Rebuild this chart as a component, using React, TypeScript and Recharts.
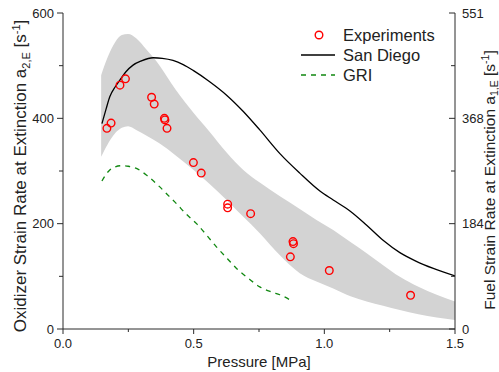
import { ComposedChart, Area, Line, Scatter, XAxis, YAxis } from "recharts";

// experimental extinction points
const expP = [0.168, 0.184, 0.218, 0.239, 0.339, 0.349, 0.388, 0.39, 0.398, 0.499, 0.529, 0.63, 0.63, 0.718, 0.87, 0.88, 0.882, 1.019, 1.33];
const expA = [381, 391, 463, 475, 440, 427, 400, 397, 381, 316, 296, 237, 230, 219, 137, 166, 162, 111, 64];

// San Diego mechanism
const sdP = [0.149, 0.165, 0.179, 0.2, 0.217, 0.24, 0.268, 0.3, 0.345, 0.38, 0.421, 0.46, 0.498, 0.56, 0.626, 0.69, 0.753, 0.83, 0.906, 0.983, 1.034, 1.098, 1.162, 1.226, 1.289, 1.35, 1.417, 1.5];
const sdA = [390, 418, 441, 460, 472, 488, 501, 509, 515, 514, 510, 502, 491, 470, 444, 413, 378, 333, 296, 262, 245, 224, 197, 168, 145, 129, 115, 101];

// GRI mechanism
const griP = [0.149, 0.165, 0.179, 0.2, 0.223, 0.25, 0.281, 0.32, 0.357, 0.4, 0.434, 0.47, 0.511, 0.55, 0.587, 0.63, 0.664, 0.71, 0.753, 0.8, 0.83, 0.88];
const griA = [281, 294, 302, 308, 310, 309, 305, 292, 276, 255, 238, 219, 200, 178, 156, 133, 115, 96, 80, 70, 65, 52];

// uncertainty band
const bandP = [0.146, 0.17, 0.2, 0.225, 0.249, 0.28, 0.32, 0.37, 0.43, 0.5, 0.56, 0.626, 0.69, 0.753, 0.83, 0.906, 0.97, 1.034, 1.1, 1.162, 1.225, 1.289, 1.36, 1.43, 1.5];
const bandHi = [482, 515, 545, 558, 560, 552, 530, 500, 455, 410, 375, 335, 302, 278, 252, 228, 207, 188, 165, 144, 121, 99, 80, 65, 52];
const bandLo = [327, 350, 372, 382, 385, 378, 367, 352, 330, 302, 276, 245, 213, 182, 140, 106, 90, 77, 62, 52, 44, 36, 28, 22, 17];

const xTicks = [0, 0.25, 0.5, 0.75, 1, 1.25, 1.5];
const yTicks = [0, 100, 200, 300, 400, 500, 600];
const rightLabels: Record<number, string> = { 0: "0", 200: "184", 400: "368", 600: "551" };

const expData = expP.map((p, i) => ({ p, a: expA[i] }));
const sdData = sdP.map((p, i) => ({ p, a: sdA[i] }));
const griData = griP.map((p, i) => ({ p, a: griA[i] }));
const bandData = bandP.map((p, i) => ({ p, range: [bandLo[i], bandHi[i]] }));

const FONT = "Arial, 'Liberation Sans', Helvetica, sans-serif";
const AXIS = "#2b2b2b";
const TXT = "#222";

const BottomTick = ({ x, y, payload }: any) => {
  const v = payload.value;
  const major = Math.abs(v * 2 - Math.round(v * 2)) < 1e-6;
  return (
    <g>
      <line x1={x} x2={x} y1={y} y2={y + (major ? 5 : 3)} stroke={AXIS} />
      {major && (
        <text x={x} y={y + 19} textAnchor="middle" fontSize={13} fontFamily={FONT} fill={TXT}>
          {v.toFixed(1)}
        </text>
      )}
    </g>
  );
};

const TopTick = ({ x, y }: any) => <line x1={x} x2={x} y1={y} y2={y + 5} stroke={AXIS} />;

const LeftTick = ({ x, y, payload }: any) => {
  const v = payload.value;
  const major = v % 200 === 0;
  return (
    <g>
      <line x1={x} x2={x - (major ? 6 : 4)} y1={y} y2={y} stroke={AXIS} />
      {major && (
        <text x={x - 9} y={y + 4.5} textAnchor="end" fontSize={13} fontFamily={FONT} fill={TXT}>
          {v}
        </text>
      )}
    </g>
  );
};

const RightTick = ({ x, y, payload }: any) => {
  const v = payload.value;
  const major = v % 200 === 0;
  return (
    <g>
      <line x1={x} x2={x - (major ? 6 : 4)} y1={y} y2={y} stroke={AXIS} />
      {major && (
        <text x={x + 7} y={y + 4.5} textAnchor="start" fontSize={13} fontFamily={FONT} fill={TXT}>
          {rightLabels[v]}
        </text>
      )}
    </g>
  );
};

const Ring = ({ cx, cy }: any) => <circle cx={cx} cy={cy} r={3.8} fill="none" stroke="#ff0000" strokeWidth={1.4} />;

export default function App() {
  return (
    <div style={{ position: "absolute", left: 0, top: 0, width: 499, height: 372, background: "#fff" }}>
      <ComposedChart width={499} height={372} margin={{ top: 13, right: 0, bottom: 0, left: 0 }}>
        <XAxis dataKey="p" type="number" domain={[0, 1.5]} ticks={xTicks} interval={0} height={43}
          tickSize={0} tickMargin={0} tick={<BottomTick />} stroke={AXIS} allowDataOverflow />
        <XAxis xAxisId="top" orientation="top" type="number" domain={[0, 1.5]} ticks={xTicks} interval={0}
          height={0} tickSize={0} tickMargin={0} tick={<TopTick />} stroke={AXIS} allowDataOverflow />
        <YAxis type="number" domain={[0, 600]} ticks={yTicks} interval={0} width={63}
          tickSize={0} tickMargin={0} tick={<LeftTick />} stroke={AXIS} allowDataOverflow />
        <YAxis yAxisId="right" orientation="right" type="number" domain={[0, 600]} ticks={yTicks} interval={0} width={44}
          tickSize={0} tickMargin={0} tick={<RightTick />} stroke={AXIS} allowDataOverflow />
        <Area data={bandData} dataKey="range" type="monotone" fill="#d3d3d3" fillOpacity={1} stroke="none" isAnimationActive={false} />
        <Line data={sdData} dataKey="a" type="monotone" stroke="#000" strokeWidth={1.3} dot={false} isAnimationActive={false} />
        <Line data={griData} dataKey="a" type="monotone" stroke="#118811" strokeWidth={1.3} strokeDasharray="5 5" dot={false} isAnimationActive={false} />
        <Scatter data={expData} dataKey="a" shape={<Ring />} isAnimationActive={false} />
      </ComposedChart>
      <svg width={499} height={372} style={{ position: "absolute", left: 0, top: 0, pointerEvents: "none" }} fontFamily={FONT} fill={TXT}>
        <text x={259} y={367} textAnchor="middle" fontSize={15}>Pressure [MPa]</text>
        <text x={26} y={176} textAnchor="middle" fontSize={17} transform="rotate(-90 26 176)">
          Oxidizer Strain Rate at Extinction a<tspan dy={4} fontSize={11}>2,E</tspan>
          <tspan dy={-4}> [s</tspan><tspan dy={-6} fontSize={11}>-1</tspan><tspan dy={6}>]</tspan>
        </text>
        <text x={495} y={180} textAnchor="middle" fontSize={15.5} transform="rotate(-90 495 180)">
          Fuel Strain Rate at Extinction a<tspan dy={2.5} fontSize={10.5}>1,E</tspan>
          <tspan dy={-2.5}> [s</tspan><tspan dy={-6} fontSize={10.5}>-1</tspan><tspan dy={6}>]</tspan>
        </text>
        <circle cx={319} cy={35} r={3.8} fill="none" stroke="#ff0000" strokeWidth={1.4} />
        <text x={343} y={41} fontSize={16.5}>Experiments</text>
        <line x1={301} x2={335} y1={55} y2={55} stroke="#000" strokeWidth={1.3} />
        <text x={343} y={61} fontSize={16.5}>San Diego</text>
        <line x1={301} x2={335} y1={75} y2={75} stroke="#118811" strokeWidth={1.3} strokeDasharray="5 5" />
        <text x={343} y={81} fontSize={16.5}>GRI</text>
      </svg>
    </div>
  );
}
